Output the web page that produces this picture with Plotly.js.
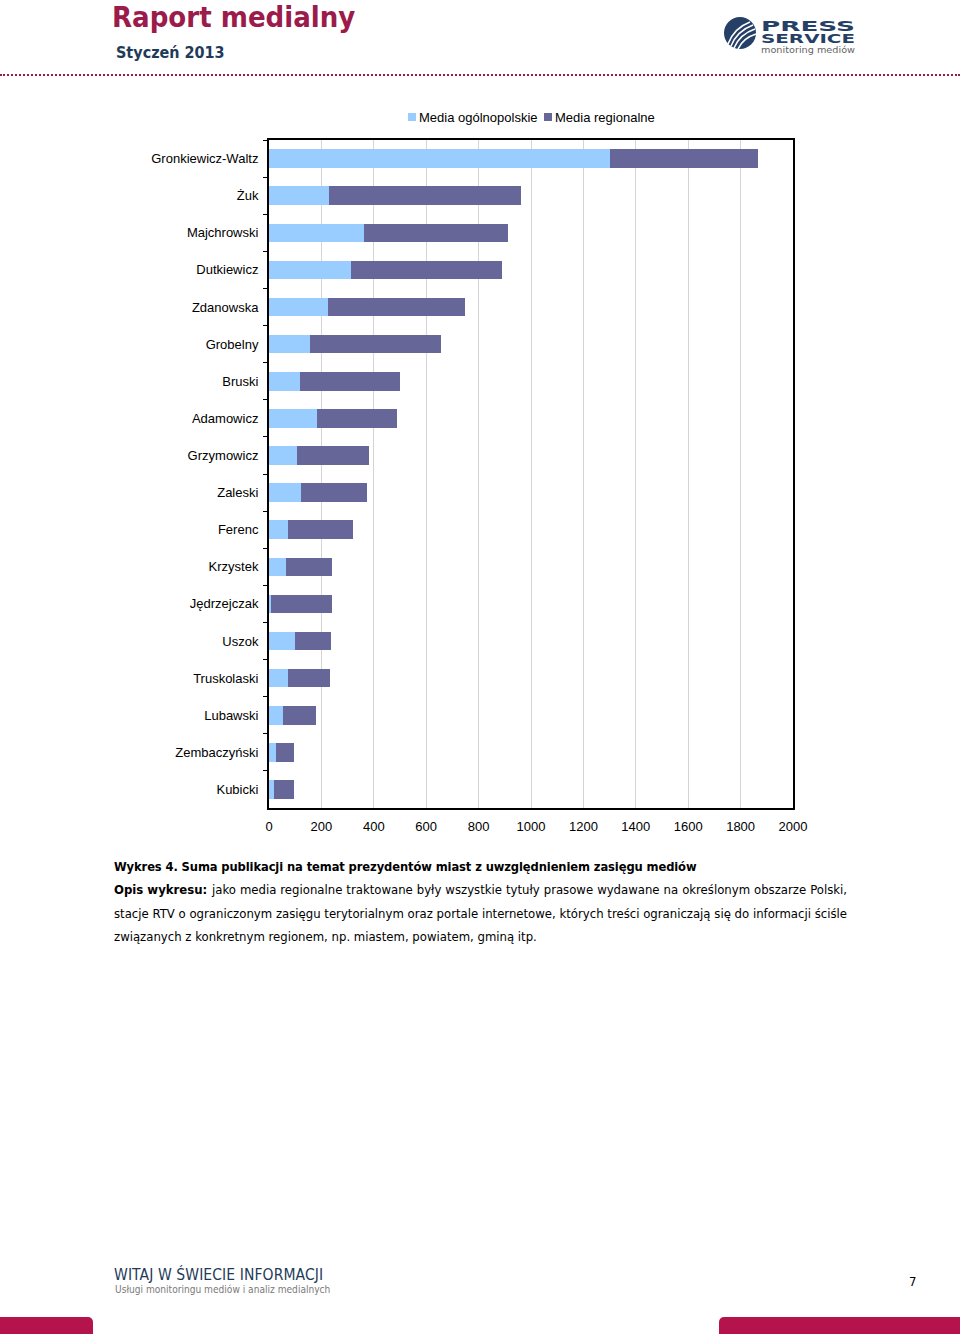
<!DOCTYPE html>
<html>
<head>
<meta charset="utf-8">
<script src="https://cdn.plot.ly/plotly-3.0.1.min.js"></script>
<style>
  html, body { margin: 0; padding: 0; background: #fff; }
  #page { position: relative; width: 960px; height: 1334px; overflow: hidden; }
  #chart { position: absolute; left: 0; top: 0; width: 960px; height: 1334px; }
  .t { position: absolute; white-space: nowrap; }
  .lg { position: absolute; font-family: 'Liberation Sans', Arial, sans-serif; font-size: 13px; color: #000; white-space: nowrap; line-height: 16px; }
  .sq { position: absolute; width: 8px; height: 8px; }
  .cap { position: absolute; font-family: 'DejaVu Sans Condensed','DejaVu Sans'; font-size: 13px; line-height: 16px; color: #000; white-space: nowrap; }
  .just { text-align: justify; text-align-last: justify; white-space: normal; }
</style>
</head>
<body>
<div id="page">
  <div id="chart"></div>

  <div class="t" style="left:112px;top:0px;font-family:'DejaVu Sans Condensed','DejaVu Sans';font-weight:bold;font-size:29px;color:#9b1b4b;">Raport medialny</div>
  <div class="t" style="left:116px;top:43px;font-family:'DejaVu Sans Condensed','DejaVu Sans';font-weight:bold;font-size:16px;color:#1f3b5a;">Styczeń 2013</div>
  <div style="position:absolute;left:0;top:74px;width:960px;height:0;border-top:2px dotted #9b1b4b;"></div>

  <svg style="position:absolute;left:720px;top:14px;" width="140" height="44">
    <circle cx="20" cy="19" r="16" fill="#253f66"/>
    <path d="M8 30 Q 14 14 30 8" stroke="#fff" stroke-width="1.6" fill="none"/>
    <path d="M11 32 Q 17 17 33 11" stroke="#fff" stroke-width="1.6" fill="none"/>
    <path d="M14 34 Q 20 20 35 15" stroke="#fff" stroke-width="1.6" fill="none"/>
    <path d="M18 35 Q 23 24 36 20" stroke="#fff" stroke-width="1.6" fill="none"/>
    <text x="41" y="17" font-family="DejaVu Sans" font-weight="bold" font-size="14" fill="#253f66" textLength="94" lengthAdjust="spacingAndGlyphs">PRESS</text>
    <text x="41" y="29" font-family="DejaVu Sans" font-weight="bold" font-size="12" fill="#253f66" textLength="94" lengthAdjust="spacingAndGlyphs">SERVICE</text>
    <text x="41" y="39" font-family="DejaVu Sans" font-size="8.5" fill="#666" textLength="94" lengthAdjust="spacingAndGlyphs">monitoring mediów</text>
  </svg>

  <div class="sq" style="left:408px;top:113px;background:#99ccff;"></div>
  <div class="lg" style="left:419px;top:110px;">Media ogólnopolskie</div>
  <div class="sq" style="left:544px;top:113px;background:#666699;"></div>
  <div class="lg" style="left:555px;top:110px;">Media regionalne</div>

  <div class="t" style="left:114px;top:859px;font-family:'DejaVu Sans Condensed','DejaVu Sans';font-weight:bold;font-size:12.8px;letter-spacing:-0.1px;color:#000;">Wykres 4. Suma publikacji na temat prezydentów miast z uwzględnieniem zasięgu mediów</div>
  <div class="cap" style="left:114px;top:882px;font-weight:bold;">Opis wykresu:</div>
  <div class="cap just" style="left:212px;top:882px;width:635px;">jako media regionalne traktowane były wszystkie tytuły prasowe wydawane na określonym obszarze Polski,</div>
  <div class="cap just" style="left:114px;top:906px;width:733px;">stacje RTV o ograniczonym zasięgu terytorialnym oraz portale internetowe, których treści ograniczają się do informacji ściśle</div>
  <div class="cap" style="left:114px;top:929px;">związanych z konkretnym regionem, np. miastem, powiatem, gminą itp.</div>

  <div class="t" style="left:114px;top:1266px;font-family:'DejaVu Sans Condensed','DejaVu Sans';font-size:15.5px;letter-spacing:0.1px;color:#1f3b5a;">WITAJ W ŚWIECIE INFORMACJI</div>
  <div class="t" style="left:115px;top:1284px;font-family:'DejaVu Sans Condensed','DejaVu Sans';font-size:10.1px;color:#7a7a7a;">Usługi monitoringu mediów i analiz medialnych</div>
  <div class="t" style="left:909px;top:1274px;font-family:'DejaVu Sans Condensed','DejaVu Sans';font-size:13px;color:#000;">7</div>

  <div style="position:absolute;left:0;top:1317px;width:93px;height:30px;background:#b5134b;border-top-right-radius:5px;"></div>
  <div style="position:absolute;left:719px;top:1317px;width:260px;height:30px;background:#b5134b;border-top-left-radius:5px;"></div>
</div>

<script>
const categories = ["Gronkiewicz-Waltz", "Żuk", "Majchrowski", "Dutkiewicz", "Zdanowska", "Grobelny", "Bruski", "Adamowicz", "Grzymowicz", "Zaleski", "Ferenc", "Krzystek", "Jędrzejczak", "Uszok", "Truskolaski", "Lubawski", "Zembaczyński", "Kubicki"];
const mediaOgolnopolskie = [1303, 230, 363, 313, 227, 156, 118, 184, 105, 124, 72, 64, 9, 101, 72, 55, 28, 20];
const mediaRegionalne = [564, 730, 550, 578, 521, 501, 382, 306, 278, 249, 248, 175, 230, 136, 160, 125, 68, 76];
const xTicks = [0, 200, 400, 600, 800, 1000, 1200, 1400, 1600, 1800, 2000];

const traces = [
  { type: 'bar', orientation: 'h', name: 'Media ogólnopolskie', y: categories, x: mediaOgolnopolskie,
    marker: { color: '#99ccff' }, hoverinfo: 'none' },
  { type: 'bar', orientation: 'h', name: 'Media regionalne', y: categories, x: mediaRegionalne,
    marker: { color: '#666699' }, hoverinfo: 'none' }
];

const layout = {
  width: 960, height: 1334,
  margin: { l: 269, r: 167, t: 140, b: 526, pad: 0 },
  paper_bgcolor: 'rgba(0,0,0,0)', plot_bgcolor: '#fff',
  barmode: 'stack', bargap: 0.5,
  font: { family: "'Liberation Sans', Arial, sans-serif", size: 13, color: '#000' },
  showlegend: false,
  xaxis: { range: [0, 2000], tickvals: xTicks, ticktext: xTicks.map(String),
           showgrid: true, gridcolor: '#d4d4d4', gridwidth: 1,
           showline: true, linecolor: '#000', linewidth: 2, mirror: true,
           ticks: '', ticklabelstandoff: 5, zeroline: false, fixedrange: true },
  yaxis: { autorange: 'reversed', type: 'category',
           showline: true, linecolor: '#000', linewidth: 2, mirror: true,
           ticks: 'outside', ticklen: 4, tickcolor: '#000', tickson: 'boundaries',
           ticklabelstandoff: 6, showgrid: false, zeroline: false, fixedrange: true }
};

Plotly.newPlot('chart', traces, layout, { staticPlot: true, displayModeBar: false });
</script>
</body>
</html>
